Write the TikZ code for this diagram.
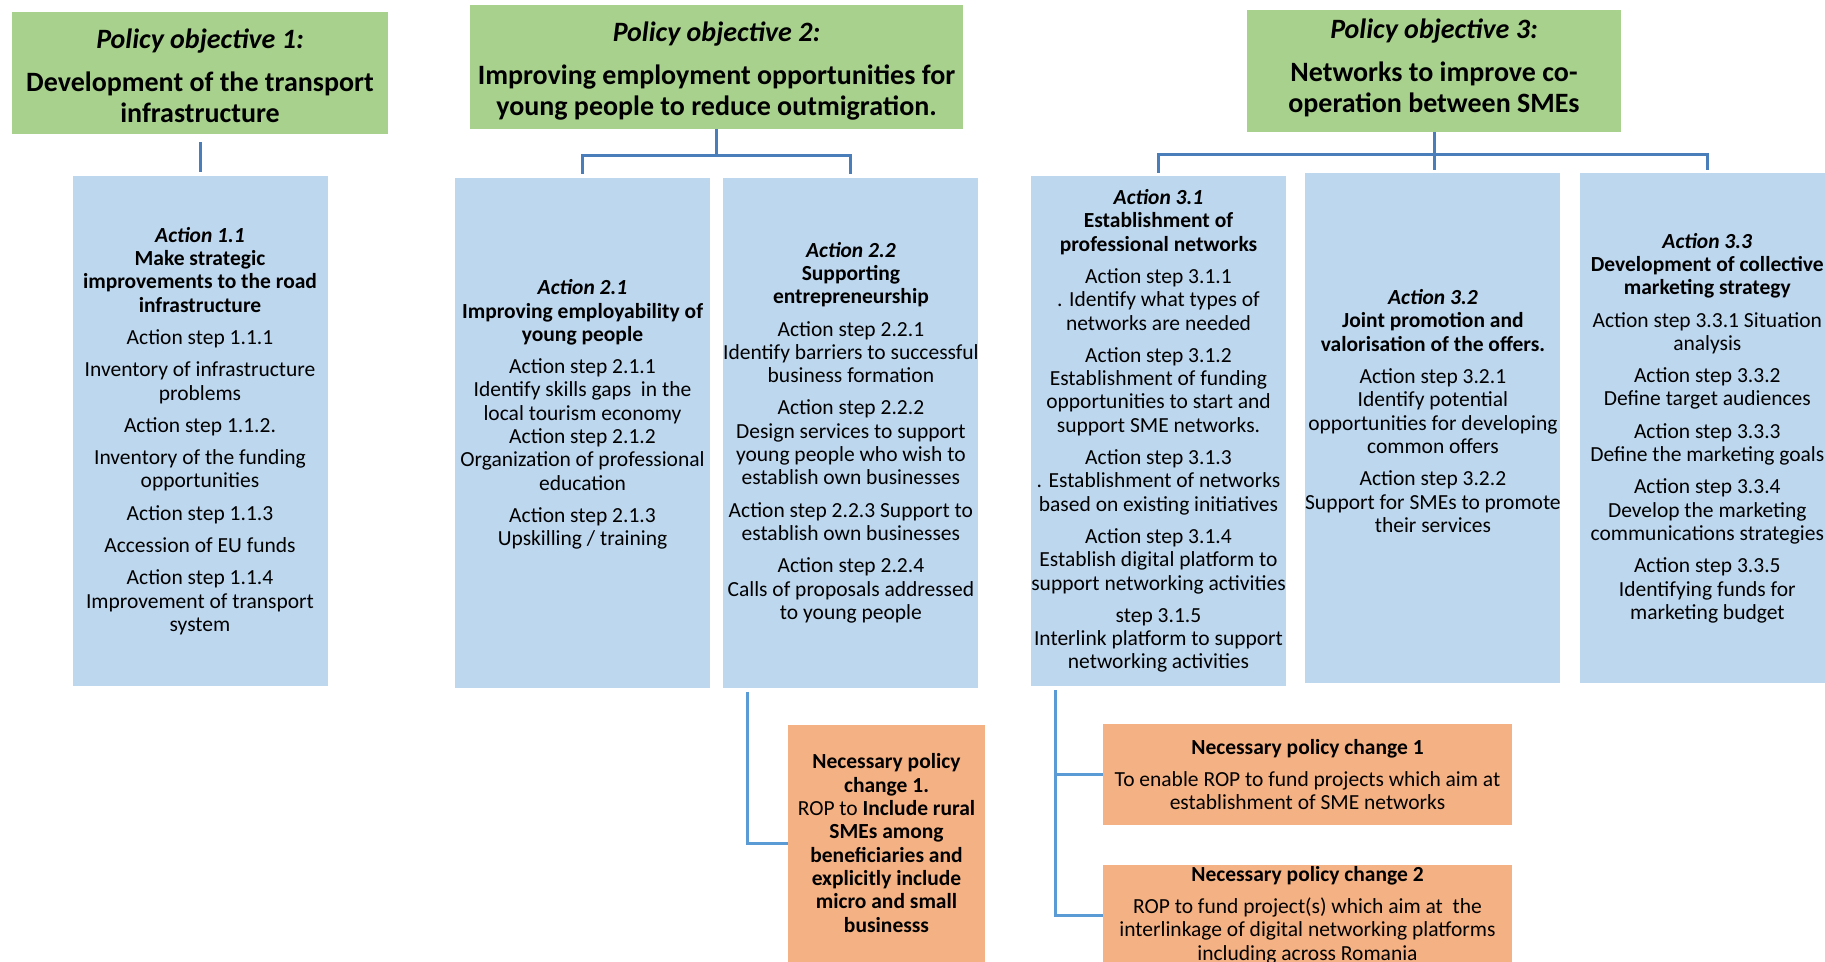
\documentclass[tikz,border=0pt]{standalone}
\usepackage{fontspec}
\setmainfont{Carlito}
\usetikzlibrary{positioning, calc}

\definecolor{pogreen}{HTML}{A9D18E}
\definecolor{actblue}{HTML}{BDD7EE}
\definecolor{chorange}{HTML}{F4B183}
\definecolor{linkblue}{HTML}{4A7EBB}
\definecolor{linklight}{HTML}{5B9BD5}

\begin{document}
\begin{tikzpicture}[x=1pt,y=-1pt,node distance=0pt]

\tikzstyle{objective}=[rectangle,fill=pogreen,minimum width=376pt,minimum height=122pt,inner sep=0pt];
\tikzstyle{action}=[rectangle,fill=actblue,minimum width=255pt,minimum height=510pt,inner sep=0pt];
\tikzstyle{change}=[rectangle,fill=chorange,inner sep=0pt];
\tikzstyle{title}=[align=center,font=\fontsize{28}{31}\selectfont\bfseries];
\tikzstyle{steps}=[align=center,font=\fontsize{21.5}{23.3}\selectfont];
\tikzstyle{link}=[draw=linkblue,line width=3pt];
\tikzstyle{sublink}=[draw=linklight,line width=3pt];

\useasboundingbox (0,0) rectangle (1825,961);

% policy objectives
\node(PO1) [objective] at (200,73) {};
\node(PO1T) [title] at ([yshift=-2.5pt]PO1.center) {\textit{Policy objective 1:}\\[12pt] Development of the transport\\ infrastructure};
\node(PO2) [objective,minimum width=493pt,minimum height=124pt] at (716.5,67) {};
\node(PO2T) [title] at ([yshift=-4pt]PO2.center) {\textit{Policy objective 2:}\\[12pt] Improving employment opportunities for\\ young people to reduce outmigration.};
\node(PO3) [objective,minimum width=374pt] at (1434,71) {};
\node(PO3T) [title] at ([yshift=3pt]PO3.center) {\textit{Policy objective 3:}\\[12pt] Networks to improve co-\\ operation between SMEs};

% actions
\node(A11) [action] at (200,431) {};
\node(A11T) [steps] at (A11) {\textbf{\textit{Action 1.1}}\\ \textbf{Make strategic}\\ \textbf{improvements to the road}\\ \textbf{infrastructure}\\[9pt]
  Action step 1.1.1\\[9pt] Inventory of infrastructure\\ problems\\[9pt] Action step 1.1.2.\\[9pt] Inventory of the funding\\ opportunities\\[9pt]
  Action step 1.1.3\\[9pt] Accession of EU funds\\[9pt] Action step 1.1.4\\ Improvement of transport\\ system};

\node(A21) [action] at (582.5,432.5) {};
\node(A21T) [steps] at ([yshift=18pt]A21.center) {\textbf{\textit{Action 2.1}}\\ \textbf{Improving employability of}\\ \textbf{young people}\\[9pt]
  Action step 2.1.1\\ Identify skills gaps~ in the\\ local tourism economy\\ Action step 2.1.2\\ Organization of professional\\ education\\[9pt]
  Action step 2.1.3\\ Upskilling / training};
\node(A22) [action,right=13pt of A21] {};
\node(A22T) [steps] at (A22) {\textbf{\textit{Action 2.2}}\\ \textbf{Supporting}\\ \textbf{entrepreneurship}\\[9pt]
  Action step 2.2.1\\ Identify barriers to successful\\ business formation\\[9pt] Action step 2.2.2\\ Design services to support\\
  young people who wish to\\ establish own businesses\\[9pt] Action step 2.2.3 Support to\\ establish own businesses\\[9pt]
  Action step 2.2.4\\ Calls of proposals addressed\\ to young people};

\node(A31) [action] at (1158.5,431) {};
\node(A31T) [steps] at (A31) {\textbf{\textit{Action 3.1}}\\ \textbf{Establishment of}\\ \textbf{professional networks}\\[9pt]
  Action step 3.1.1\\ . Identify what types of\\ networks are needed\\[9pt] Action step 3.1.2\\ Establishment of funding\\
  opportunities to start and\\ support SME networks.\\[9pt] Action step 3.1.3\\ . Establishment of networks\\ based on existing initiatives\\[9pt]
  Action step 3.1.4\\ Establish digital platform to\\ support networking activities\\[9pt] step 3.1.5\\ Interlink platform to support\\ networking activities};
\node(A32) [action,right=19pt of A31,yshift=3pt] {};
\node(A32T) [steps] at ([yshift=17pt]A32.center) {\textbf{\textit{Action 3.2}}\\ \textbf{Joint promotion and}\\ \textbf{valorisation of the offers.}\\[9pt]
  Action step 3.2.1\\ Identify potential\\ opportunities for developing\\ common offers\\[9pt] Action step 3.2.2\\ Support for SMEs to promote\\ their services};
\node(A33) [action,right=19pt of A32] {};
\node(A33T) [steps] at (A33) {\textbf{\textit{Action 3.3}}\\ \textbf{Development of collective}\\ \textbf{marketing strategy}\\[9pt]
  Action step 3.3.1 Situation\\ analysis\\[9pt] Action step 3.3.2\\ Define target audiences\\[9pt] Action step 3.3.3\\ Define the marketing goals\\[9pt]
  Action step 3.3.4\\ Develop the marketing\\ communications strategies\\[9pt] Action step 3.3.5\\ Identifying funds for\\ marketing budget};

% necessary policy changes
\node(C21) [change,minimum width=197pt,minimum height=250pt] at (886.5,850) {};
\node(C21T) [steps] at (886.5,843) {\textbf{Necessary policy}\\ \textbf{change 1.}\\ ROP to \textbf{Include rural}\\ \textbf{SMEs among}\\
  \textbf{beneficiaries and}\\ \textbf{explicitly include}\\ \textbf{micro and small}\\ \textbf{businesss}};
\node(C31) [change,minimum width=409pt,minimum height=101pt] at (1307.5,774.5) {};
\node(C31T) [steps] at (C31) {\textbf{Necessary policy change 1}\\[9pt] To enable ROP to fund projects which aim at\\ establishment of SME networks};
\node(C32) [change,minimum width=409pt,minimum height=115pt,below=40pt of C31] {};
\node(C32T) [steps] at ([yshift=8pt]C32.center) {\textbf{Necessary policy change 2}\\[9pt] ROP to fund project(s) which aim at~ the\\
  interlinkage of digital networking platforms\\ including across Romania};

% connectors
\draw [link] ([yshift=-8pt]PO1.south) -- ([yshift=4pt]A11.north);
\coordinate (J2) at ([yshift=-26pt]PO2.south);
\draw [link] (PO2.south) -- (J2);
\draw [link] (J2) -| ([yshift=3pt]A21.north);
\draw [link] (J2) -| ([yshift=3pt]A22.north);
\coordinate (J3) at ([yshift=-22pt]PO3.south);
\draw [link] (PO3.south) -- ([yshift=3pt]PO3.south |- A32.north);
\draw [link] (J3) -| ([yshift=3pt]A31.north);
\draw [link] (J3) -| ([yshift=3pt]A33.north);
\draw [sublink] ([xshift=24pt,yshift=-4pt]A22.south west) |- ([yshift=7pt]C21.west);
\draw [sublink] ([xshift=25pt,yshift=-4pt]A31.south west) |- (C31.west);
\draw [sublink] ([xshift=25pt,yshift=-4pt]A31.south west) |- ([yshift=7.5pt]C32.west);

\end{tikzpicture}
\end{document}
